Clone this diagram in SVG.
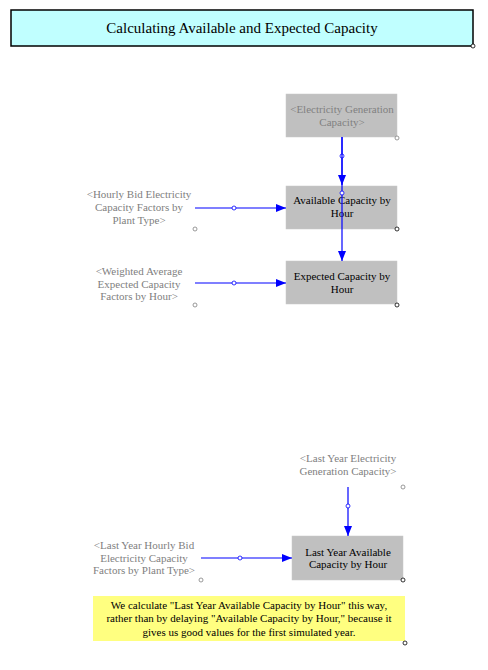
<svg xmlns="http://www.w3.org/2000/svg" width="488" height="670" viewBox="0 0 488 670" font-family="'Liberation Serif', 'DejaVu Serif', serif">
<style>
text{font-family:'Liberation Serif','DejaVu Serif',serif;font-size:11px;text-anchor:middle}
.t{font-size:15px;fill:#000}
.g{fill:#808080}
.k{fill:#000}
.box{fill:#c0c0c0;stroke:#c8c8c8;stroke-width:0.5}
.hc{fill:#fff;stroke:#808080;stroke-width:0.8}
.kc{fill:#fff;stroke:#000;stroke-width:0.8}
.ln{stroke:#0000ff;stroke-width:1.2;fill:none;marker-end:url(#ah)}
.bc{fill:#fff;stroke:#0000ff;stroke-width:0.8}
</style>
<defs>
<marker id="ah" viewBox="0 0 10 8" refX="10" refY="4" markerWidth="10" markerHeight="8" markerUnits="userSpaceOnUse" orient="auto">
<path d="M0,0 L10,4 L0,8 z" fill="#0000ff"/>
</marker>
</defs>
<rect width="488" height="670" fill="#fff"/>
<g id="title">
<rect x="11" y="10" width="462" height="36" fill="#c0ffff" stroke="#000" stroke-width="1.5"/>
<text class="t" x="242" y="33">Calculating Available and Expected Capacity</text>
<circle class="kc" cx="473" cy="46" r="2"/>
</g>
<g id="egc">
<rect class="box" x="286" y="94" width="111" height="43"/>
<text class="g" x="342" y="113">&lt;Electricity Generation</text>
<text class="g" x="342" y="126">Capacity&gt;</text>
<circle class="hc" cx="397" cy="138" r="2"/>
</g>
<g id="ach">
<rect class="box" x="286" y="186" width="111" height="43"/>
<text class="k" x="342" y="204">Available Capacity by</text>
<text class="k" x="342" y="217">Hour</text>
<circle class="kc" cx="397" cy="229" r="2"/>
</g>
<g id="hbid">
<text class="g" x="139" y="198">&lt;Hourly Bid Electricity</text>
<text class="g" x="139" y="211">Capacity Factors by</text>
<text class="g" x="139" y="224">Plant Type&gt;</text>
<circle class="hc" cx="195" cy="229" r="2"/>
</g>
<g id="ech">
<rect class="box" x="286" y="261" width="111" height="43"/>
<text class="k" x="342" y="280">Expected Capacity by</text>
<text class="k" x="342" y="293">Hour</text>
<circle class="kc" cx="397" cy="305" r="2"/>
</g>
<g id="wavg">
<text class="g" x="139" y="275">&lt;Weighted Average</text>
<text class="g" x="139" y="288">Expected Capacity</text>
<text class="g" x="139" y="300">Factors by Hour&gt;</text>
<circle class="hc" cx="195" cy="305" r="2"/>
</g>
<g id="lyegc">
<text class="g" x="348" y="462">&lt;Last Year Electricity</text>
<text class="g" x="348" y="475">Generation Capacity&gt;</text>
<circle class="hc" cx="403" cy="487" r="2"/>
</g>
<g id="lyach">
<rect class="box" x="292" y="536" width="111" height="44"/>
<text class="k" x="348" y="556">Last Year Available</text>
<text class="k" x="348" y="568">Capacity by Hour</text>
<circle class="kc" cx="403" cy="580" r="2"/>
</g>
<g id="lyhbid">
<text class="g" x="144" y="549">&lt;Last Year Hourly Bid</text>
<text class="g" x="144" y="562">Electricity Capacity</text>
<text class="g" x="144" y="574">Factors by Plant Type&gt;</text>
<circle class="hc" cx="201" cy="580" r="2"/>
</g>
<g id="note">
<rect x="93" y="596" width="312" height="45" fill="#ffff80"/>
<text class="k" x="249" y="609">We calculate "Last Year Available Capacity by Hour" this way,</text>
<text class="k" x="249" y="622">rather than by delaying "Available Capacity by Hour," because it</text>
<text class="k" x="249" y="636">gives us good values for the first simulated year.</text>
<circle class="kc" cx="405" cy="643" r="2"/>
</g>
<g id="connectors">
<line class="ln" x1="342" y1="137" x2="342" y2="185"/>
<circle class="bc" cx="342" cy="156" r="2"/>
<line class="ln" x1="342" y1="137" x2="342" y2="261"/>
<circle class="bc" cx="342" cy="193" r="2"/>
<line class="ln" x1="195" y1="208" x2="286" y2="208"/>
<circle class="bc" cx="234" cy="208" r="2"/>
<line class="ln" x1="195" y1="283" x2="286" y2="283"/>
<circle class="bc" cx="234" cy="283" r="2"/>
<line class="ln" x1="348" y1="487" x2="348" y2="536"/>
<circle class="bc" cx="348" cy="506" r="2"/>
<line class="ln" x1="201" y1="558" x2="292" y2="558"/>
<circle class="bc" cx="240" cy="558" r="2"/>
</g>
</svg>
